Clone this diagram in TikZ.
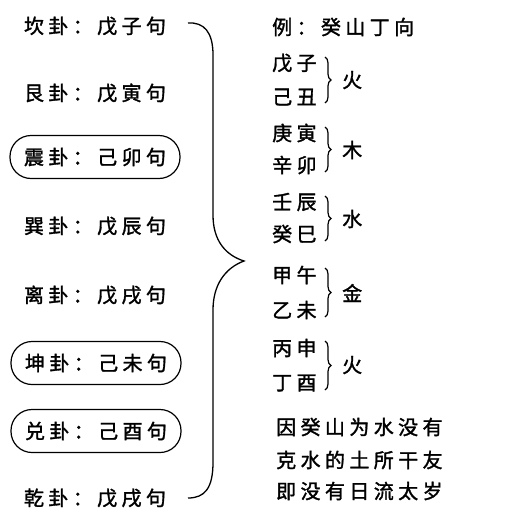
\documentclass[tikz,border=0pt]{standalone}
\usepackage{fontspec}
\setmainfont{Noto Sans CJK SC}[LetterSpace=22,FakeBold=1.5]
\usetikzlibrary{decorations.pathreplacing}
\begin{document}
\begin{tikzpicture}[x=1pt,y=-1pt,
  txt/.style={font=\fontsize{20}{22}\selectfont, inner sep=0pt},
  row/.style={txt, anchor=center},
  boxed/.style={row, draw, line width=1.2pt, rounded corners=21pt, minimum width=170pt, minimum height=43pt},
  rtxt/.style={txt, anchor=west},
  smallbrace/.style={decorate, decoration={brace, amplitude=6pt}, line width=1.2pt},
  bigbrace/.style={line width=1.3pt}]
\useasboundingbox[fill=white] (0,0) rectangle (509,517);
% left column
\node[row] (kan) at (95,26) {坎卦：戊子句};
\node[row] (gen) at (95,93) {艮卦：戊寅句};
\node[boxed] (zhen) at (95,157) {震卦：己卯句};
\node[row] (xun) at (95,226) {巽卦：戊辰句};
\node[row] (li) at (95,295) {离卦：戊戌句};
\node[boxed] (kun) at (96,363) {坤卦：己未句};
\node[boxed] (dui) at (96,431) {兑卦：己酉句};
\node[row] (qian) at (95,498) {乾卦：戊戌句};
% big brace
\coordinate (bt) at (188,23);
\coordinate (bm) at (244,261);
\coordinate (bb) at (188,498);
\draw[bigbrace] (bt) .. controls (204,22) and (213,32) .. (213,55)
  -- (213,215) .. controls (213,240) and (225,255) .. (bm)
  .. controls (225,268) and (213,285) .. (213,310)
  -- (213,462) .. controls (213,488) and (205,498) .. (bb);
% right column
\node[rtxt] (ex) at (272,27) {例：癸山丁向};
\node[rtxt] (a1) at (272,63) {戊子};
\node[rtxt] (a2) at (272,97) {己丑};
\node[rtxt] (b1) at (272,133) {庚寅};
\node[rtxt] (b2) at (272,165) {辛卯};
\node[rtxt] (c1) at (272,202) {壬辰};
\node[rtxt] (c2) at (272,234) {癸巳};
\node[rtxt] (d1) at (272,275) {甲午};
\node[rtxt] (d2) at (272,310) {乙未};
\node[rtxt] (e1) at (272,348) {丙申};
\node[rtxt] (e2) at (272,383) {丁酉};
\coordinate (a1t) at (325,57); \coordinate (a2b) at (325,103);
\coordinate (b1t) at (325,127); \coordinate (b2b) at (325,172);
\coordinate (c1t) at (325,196); \coordinate (c2b) at (325,241);
\coordinate (d1t) at (325,268); \coordinate (d2b) at (325,317);
\coordinate (e1t) at (325,341); \coordinate (e2b) at (325,390);
\draw[smallbrace] (a1t) -- (a2b);
\draw[smallbrace] (b1t) -- (b2b);
\draw[smallbrace] (c1t) -- (c2b);
\draw[smallbrace] (d1t) -- (d2b);
\draw[smallbrace] (e1t) -- (e2b);
\node[rtxt] (fa) at (342,80) {火};
\node[rtxt] (fb) at (342,150) {木};
\node[rtxt] (fc) at (342,219) {水};
\node[rtxt] (fd) at (342,293) {金};
\node[rtxt] (fe) at (342,365) {火};
\node[rtxt] (l1) at (276,427) {因癸山为水没有};
\node[rtxt] (l2) at (276,460) {克水的土所干友};
\node[rtxt] (l3) at (276,491) {即没有日流太岁};
\end{tikzpicture}
\end{document}
